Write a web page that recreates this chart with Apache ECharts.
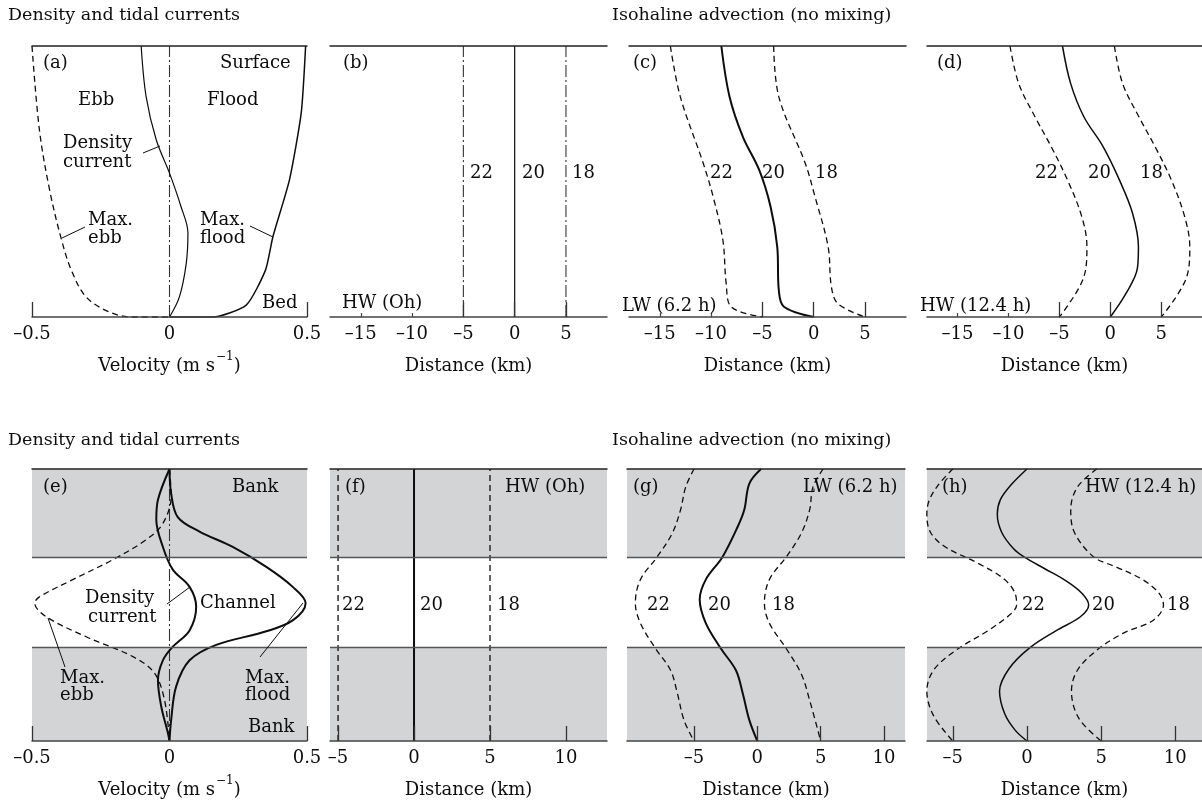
<!DOCTYPE html>
<html><head><meta charset="utf-8">
<script src="https://cdn.jsdelivr.net/npm/echarts@6/dist/echarts.min.js"></script>
<style>html,body{margin:0;padding:0;background:#fff}#c{width:1202px;height:802px}</style>
</head><body><div id="c"></div>
<script>
// ---------- data (x value, y level) ----------
// Top row: y = height above bed (0 bed .. 1 surface)
const aMaxEbb = [[-0.5,1],[-0.473,0.69],[-0.436,0.469],[-0.394,0.29],[-0.357,0.173],[-0.303,0.074],[-0.218,0.018],[-0.134,0],[0,0]];
const aMaxFlood = [[0.495,1],[0.479,0.753],[0.436,0.505],[0.376,0.296],[0.349,0.173],[0.279,0.044],[0.157,0],[0,0]];
const aDensity = [[-0.103,1],[-0.085,0.813],[-0.048,0.653],[0,0.531],[0.042,0.407],[0.067,0.31],[0.061,0.199],[0.036,0.074],[0,0]];
const aZero = [[0,0],[0,1]];
const b22 = [[-5,0],[-5,1]];
const b20 = [[0,0],[0,1]];
const b18 = [[5,0],[5,1]];
const c22 = [[-13.97,1],[-13.0,0.813],[-10.77,0.568],[-9.8,0.444],[-8.85,0.284],[-8.53,0.125],[-8.05,0.038],[-5,0]];
const c20 = [[-9.0,1],[-8.2,0.813],[-6.9,0.665],[-5.3,0.542],[-4.2,0.407],[-3.55,0.259],[-3.4,0.1],[-2.9,0.038],[0,0]];
const c18 = [[-3.9,1],[-3.4,0.813],[-0.83,0.568],[0.13,0.444],[1.41,0.259],[1.73,0.111],[2.37,0.049],[5,0]];
const d22 = [[-9.85,1],[-9.0,0.862],[-7.4,0.739],[-5.8,0.628],[-4.2,0.505],[-2.8,0.37],[-2.3,0.259],[-2.6,0.148],[-5,0]];
const d20 = [[-4.7,1],[-3.9,0.862],[-2.6,0.739],[-0.7,0.628],[0.9,0.505],[2.18,0.383],[2.76,0.259],[2.66,0.18],[1.54,0.087],[0,0]];
const d18 = [[0.4,1],[1.2,0.862],[2.8,0.739],[4.4,0.628],[6.0,0.505],[7.3,0.37],[7.8,0.259],[7.5,0.148],[5,0]];
// Bottom row: y = cross-channel position (0 .. 3), channel in the middle
const eMaxFlood = [[0,3],[0.006,2.73],[0.03,2.47],[0.109,2.31],[0.23,2.14],[0.352,1.92],[0.448,1.70],[0.495,1.52],[0.448,1.33],[0.352,1.21],[0.17,1.06],[0.073,0.89],[0.024,0.60],[0.006,0.23],[0,0]];
const eMaxEbb = [[0,3],[0.006,2.70],[-0.024,2.40],[-0.085,2.22],[-0.206,2.0],[-0.352,1.78],[-0.473,1.59],[-0.49,1.52],[-0.448,1.37],[-0.303,1.15],[-0.133,0.93],[-0.055,0.75],[-0.018,0.45],[0,0]];
const eDensity = [[0,3],[-0.042,2.66],[-0.048,2.44],[-0.024,2.14],[0.012,1.89],[0.073,1.70],[0.097,1.48],[0.073,1.22],[0.012,1.04],[-0.024,0.89],[-0.042,0.67],[-0.03,0.38],[-0.006,0.09],[0,0]];
const eZero = [[0,0],[0,3]];
const f22 = [[-5,0],[-5,3]];
const f20 = [[0,0],[0,3]];
const f18 = [[5,0],[5,3]];
const g22 = [[-5.0,3],[-5.66,2.80],[-6.06,2.55],[-6.72,2.29],[-7.91,2.03],[-9.23,1.78],[-9.63,1.52],[-9.23,1.30],[-8.04,1.02],[-6.85,0.78],[-6.32,0.53],[-5.79,0.23],[-5,0]];
const g20 = [[0.29,3],[-0.63,2.84],[-1.03,2.55],[-1.56,2.36],[-2.75,2.03],[-4.07,1.78],[-4.55,1.56],[-4.07,1.30],[-2.88,1.02],[-1.69,0.78],[-1.16,0.53],[-0.63,0.23],[0,0]];
const g18 = [[5.19,3],[4.39,2.80],[4.13,2.55],[3.47,2.29],[2.28,2.03],[0.95,1.78],[0.56,1.52],[0.95,1.30],[2.28,1.02],[3.47,0.74],[4.13,0.45],[5,0]];
const h22 = [[-5.0,3],[-6.0,2.82],[-6.6,2.65],[-6.75,2.5],[-6.5,2.3],[-5.5,2.14],[-3.3,1.96],[-1.5,1.78],[-0.75,1.6],[-0.7,1.5],[-1.1,1.4],[-2.6,1.22],[-4.8,1.0],[-6.3,0.78],[-6.75,0.55],[-6.3,0.28],[-5,0]];
const h20 = [[0,3],[-1.1,2.82],[-1.8,2.66],[-2.0,2.5],[-1.7,2.3],[-0.9,2.12],[-0.2,2.03],[1.2,1.9],[2.6,1.77],[3.7,1.63],[4.16,1.5],[3.6,1.37],[2.0,1.22],[0.2,1.03],[-1.2,0.8],[-1.85,0.55],[-1.5,0.3],[-0.8,0.12],[0,0]];
const h18 = [[4.7,3],[3.4,2.8],[2.95,2.55],[3.2,2.3],[4.5,2.03],[6.0,1.92],[7.8,1.78],[8.9,1.63],[9.2,1.5],[8.5,1.33],[6.5,1.19],[4.7,1.0],[3.4,0.78],[3.0,0.55],[3.5,0.25],[5,0]];
// bands (bank / channel boundaries)
const bankLow = [0, 1.026];
const bankHigh = [2.03, 3];
// tick labels
const velTicks = [-0.5, 0, 0.5];
const distTicksTop = [-15, -10, -5, 0, 5];
const distTicksBot = [-5, 0, 5, 10];
const shortTicksTop = [-15, -10];
const longTicksTop = [-5, 0, 5];

// ---------- layout ----------
const F = 'DejaVu Serif';
const INK = '#0d0d0d';
const fmt = v => v < 0 ? '\u2013' + Math.abs(v) : String(v);
const VEL = '{n|Velocity (m s}{sup|\u22121}{n|)}';
const DIST = '{n|Distance (km)}';
const panels = [
  {g:{left:32,top:46,width:275,height:271}, x:[-0.5,0.5], y:[0,1], lab:velTicks, sh:[], lg:[-0.5,0.5], name:VEL},
  {g:{left:330,top:46,width:277,height:271}, x:[-18,9], y:[0,1], lab:distTicksTop, sh:shortTicksTop, lg:longTicksTop, name:DIST},
  {g:{left:629,top:46,width:277,height:271}, x:[-18,9], y:[0,1], lab:distTicksTop, sh:shortTicksTop, lg:longTicksTop, name:DIST},
  {g:{left:927,top:46,width:277,height:271}, x:[-18,9], y:[0,1], lab:distTicksTop, sh:shortTicksTop, lg:longTicksTop, name:DIST},
  {g:{left:32,top:469,width:275,height:272}, x:[-0.5,0.5], y:[0,3], lab:velTicks, sh:[], lg:[-0.5,0.5], name:VEL, band:true},
  {g:{left:330,top:469,width:277,height:272}, x:[-5.53,12.7], y:[0,3], lab:distTicksBot, sh:[], lg:distTicksBot, name:DIST, band:true},
  {g:{left:627,top:469,width:278,height:272}, x:[-10.29,11.66], y:[0,3], lab:distTicksBot, sh:[], lg:distTicksBot, name:DIST, band:true},
  {g:{left:927,top:469,width:277,height:272}, x:[-6.74,11.8], y:[0,3], lab:distTicksBot, sh:[], lg:distTicksBot, name:DIST, band:true}
];

const grid = [], xAxis = [], yAxis = [], series = [];
panels.forEach((p, i) => {
  grid.push(Object.assign({containLabel:false}, p.g));
  yAxis.push({gridIndex:i, type:'value', min:p.y[0], max:p.y[1], show:false});
  xAxis.push({gridIndex:i, type:'value', position:'bottom', min:p.x[0], max:p.x[1], z:10,
    axisLine:{show:true, onZero:false, lineStyle:{color:'#444', width:1.5}},
    axisTick:{show:p.sh.length>0, inside:true, length:4, customValues:p.sh, lineStyle:{color:'#444', width:1.2}},
    axisLabel:{show:true, customValues:p.lab, formatter:fmt, margin:8, fontFamily:F, fontSize:18, color:INK, hideOverlap:false, showMinLabel:true, showMaxLabel:true},
    splitLine:{show:false},
    name:p.name, nameLocation:'middle', nameGap:34,
    nameTextStyle:{fontFamily:F, fontSize:18, color:INK,
      rich:{n:{fontFamily:F, fontSize:18, color:INK, lineHeight:24, verticalAlign:'bottom'},
            sup:{fontFamily:F, fontSize:12, color:INK, lineHeight:24, verticalAlign:'top', padding:[0,0,0,1]}}}});
  xAxis.push({gridIndex:i, type:'value', position:'bottom', min:p.x[0], max:p.x[1], z:10,
    axisLine:{show:false, onZero:false},
    axisTick:{show:true, inside:true, length:15, customValues:p.lg, lineStyle:{color:'#333', width:1.3}},
    axisLabel:{show:false}, splitLine:{show:false}});
  xAxis.push({gridIndex:i, type:'value', position:'top', min:p.x[0], max:p.x[1], z:10,
    axisLine:{show:true, onZero:false, lineStyle:{color:'#222', width:1.5}},
    axisTick:{show:false}, axisLabel:{show:false}, splitLine:{show:false}});
  if (p.band) {
    series.push({type:'line', xAxisIndex:i*3, yAxisIndex:i, data:[[p.x[0],0]], symbol:'none', z:1, silent:true,
      lineStyle:{width:0},
      markArea:{silent:true, itemStyle:{color:'#d3d4d6'}, data:[[{yAxis:bankLow[0]},{yAxis:bankLow[1]}],[{yAxis:bankHigh[0]},{yAxis:bankHigh[1]}]]},
      markLine:{silent:true, symbol:'none', label:{show:false}, lineStyle:{type:'solid', color:'#555', width:1.3},
        data:[{yAxis:bankLow[1]},{yAxis:bankHigh[0]}]}});
  }
});

const SOLID = {type:'solid', width:1.5, color:INK};
const THICK = {type:'solid', width:2, color:INK};
const THIN = {type:'solid', width:1.2, color:INK};
const DASH = {type:[6,4], width:1.3, color:INK};
const DASHDOT = {type:[12,3,2,3], width:1.1, color:'#333'};
function line(panel, data, style, smooth) {
  series.push({type:'line', xAxisIndex:panel*3, yAxisIndex:panel, data:data, symbol:'none',
    smooth: smooth === undefined ? 0.35 : smooth, lineStyle:style, z:3, silent:true, clip:false});
}
line(0, aZero, DASHDOT, false);
line(0, aMaxEbb, DASH);
line(0, aMaxFlood, SOLID, 0.2);
line(0, aDensity, THIN);
line(1, b22, DASHDOT, false); line(1, b20, THIN, false); line(1, b18, DASHDOT, false);
line(2, c22, DASH); line(2, c20, THICK); line(2, c18, DASH);
line(3, d22, DASH); line(3, d20, SOLID); line(3, d18, DASH);
line(4, eZero, DASHDOT, false);
line(4, eMaxEbb, DASH);
line(4, eMaxFlood, THICK);
line(4, eDensity, THICK);
line(5, f22, DASH, false); line(5, f20, THICK, false); line(5, f18, DASH, false);
line(6, g22, DASH); line(6, g20, THICK); line(6, g18, DASH);
line(7, h22, DASH); line(7, h20, SOLID); line(7, h18, DASH);

// ---------- annotations ----------
const texts = [
  ['Density and tidal currents',8,15,17.5], ['Isohaline advection (no mixing)',612,15,17.5],
  ['(a)',43,63], ['Surface',220,63], ['Ebb',78,100], ['Flood',207,100], ['Density',63,143], ['current',63,162],
  ['Max.',88,220], ['ebb',88,238], ['Max.',200,220], ['flood',200,238], ['Bed',262,303],
  ['(b)',343,63], ['22',470,173], ['20',522,173], ['18',572,173], ['HW (Oh)',342,303],
  ['(c)',633,63], ['22',710,173], ['20',762,173], ['18',815,173], ['LW (6.2 h)',622,306],
  ['(d)',937,63], ['22',1035,173], ['20',1088,173], ['18',1140,173], ['HW (12.4 h)',920,306],
  ['Density and tidal currents',8,440,17.5], ['Isohaline advection (no mixing)',612,440,17.5],
  ['(e)',43,487], ['Bank',232,487], ['Density',85,598], ['current',88,617], ['Channel',200,603],
  ['Max.',60,678], ['ebb',60,695], ['Max.',245,678], ['flood',245,695], ['Bank',248,727],
  ['(f)',345,487], ['HW (Oh)',505,487], ['22',342,605], ['20',420,605], ['18',497,605],
  ['(g)',633,487], ['LW (6.2 h)',803,487], ['22',647,605], ['20',708,605], ['18',772,605],
  ['(h)',942,487], ['HW (12.4 h)',1085,487], ['22',1022,605], ['20',1092,605], ['18',1167,605]
];
const leaders = [
  [143,153,160,146], [62,238,85,227], [250,226,273,237],
  [167,604,190,587], [65,667,48,618], [260,657,303,603]
];
const graphic = [];
texts.forEach(t => graphic.push({type:'text', x:t[1], y:t[2], z:20, silent:true,
  style:{text:t[0], font:(t[3]||18)+'px "DejaVu Serif"', fill:INK, align:'left', verticalAlign:'middle'}}));
leaders.forEach(l => graphic.push({type:'line', z:20, silent:true, shape:{x1:l[0],y1:l[1],x2:l[2],y2:l[3]}, style:{stroke:INK, lineWidth:1}}));

const chart = echarts.init(document.getElementById('c'), null, {renderer:'canvas'});
chart.setOption({animation:false, backgroundColor:'#fff', grid, xAxis, yAxis, series, graphic});
</script></body></html>
